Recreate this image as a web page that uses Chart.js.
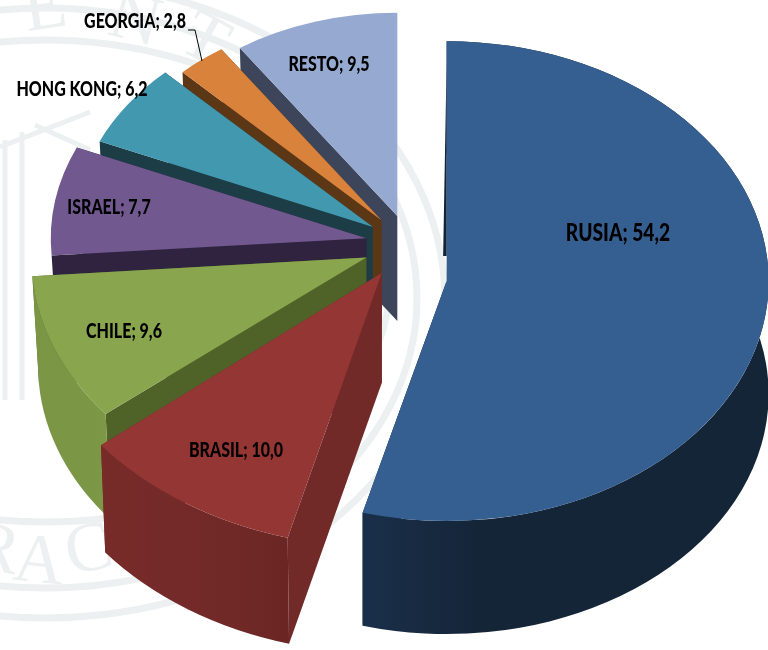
<!DOCTYPE html>
<html>
<head>
<meta charset="utf-8">
<title>Pie 3D</title>
<script src="https://cdn.jsdelivr.net/npm/chart.js@4/dist/chart.umd.min.js"></script>
<style>
  html, body { margin: 0; padding: 0; background: #fff; }
  #wrap { width: 768px; height: 650px; }
</style>
</head>
<body>
<div id="wrap"><canvas id="pie" width="768" height="650"></canvas></div>
<script>
'use strict';

const categories = ['RUSIA', 'BRASIL', 'CHILE', 'ISRAEL', 'HONG KONG', 'GEORGIA', 'RESTO'];
const shares = [54.2, 10.0, 9.6, 7.7, 6.2, 2.8, 9.5];

// colours of the three visible faces of each slice
const topColors = ['#365f91', '#943634', '#89a54e', '#71588f', '#4198af', '#d8823c', '#95a9d1'];
const cutColors = ['#0f2438', '#722a28', '#4f6228', '#2f2340', '#1c3c46', '#5c3716', '#3c4559'];
const rimColors = [
  ['#25425f', '#1b3350', '#152538'],
  ['#7c2d2b', '#702927', '#632220'],
  ['#7a9645', '#7f9b48', '#76923c'],
  null, null, null, null // these rims face away
];

// fake 3D: explode distance, nearer slices look bigger, extrusion narrows a bit
const explode = [42, 38, 40, 40, 42, 42, 30];
const perspective = [1.0, 1.12, 1.04, 0.98, 0.925, 0.885, 0.87];
const squash = [0.745, 0.76, 0.745, 0.725, 0.725, 0.725, 0.725];
const drop = [37, 6, 6, 3, 3, 1, -6];
const depth = [113, 110, 109, 105, 105, 105, 105];
const taper = [1, 0.985, 0.98, 0.98, 0.98, 0.98, 0.98];
const baseRadius = 322;

// label centres and sizes
const labelX = [618, 236, 124, 109, 82, 135, 329];
const labelY = [233, 451, 332, 208, 90, 22, 65];
const labelSize = [24, 20, 20, 20, 20, 20, 20];
const labelSqueeze = 0.8;

function sliceShape(arc, i) {
  const p = arc.getProps(['x', 'y', 'startAngle', 'endAngle', 'outerRadius'], true);
  const mid = (p.startAngle + p.endAngle) / 2;
  const sx = perspective[i];
  const sy = sx * squash[i];
  return {
    x: p.x, y: p.y, sx, sy,
    ax: p.x + sx * explode[i] * Math.cos(mid),
    ay: p.y + sy * explode[i] * Math.sin(mid) + drop[i],
    rx: sx * p.outerRadius, ry: sy * p.outerRadius,
    a0: p.startAngle, a1: p.endAngle
  };
}

function cutFace(ctx, s, angle, d, t) {
  ctx.beginPath();
  ctx.moveTo(s.ax, s.ay);
  ctx.lineTo(s.ax, s.ay + d);
  ctx.lineTo(s.ax + s.rx * t * Math.cos(angle), s.ay + d + s.ry * t * Math.sin(angle));
  ctx.lineTo(s.ax + s.rx * Math.cos(angle), s.ay + s.ry * Math.sin(angle));
  ctx.closePath();
  ctx.fill();
}

const pie3d = {
  id: 'pie3d',
  beforeDatasetDraw(chart) {
    const ctx = chart.ctx;
    const arcs = chart.getDatasetMeta(0).data;
    for (let i = arcs.length - 1; i >= 0; i--) {
      const s = sliceShape(arcs[i], i);
      const d = depth[i];
      const t = taper[i];

      ctx.save();
      ctx.fillStyle = cutColors[i];
      cutFace(ctx, s, s.a0, d, t);
      cutFace(ctx, s, s.a1, d, t);

      // rim
      if (rimColors[i]) {
        const g = ctx.createLinearGradient(s.ax - s.rx, 0, s.ax + s.rx, 0);
        if (i === 0) {
          g.addColorStop(0.1, rimColors[i][0]);
          g.addColorStop(0.3, rimColors[i][1]);
          g.addColorStop(0.55, rimColors[i][2]);
        } else {
          g.addColorStop(0, rimColors[i][0]);
          g.addColorStop(0.3, rimColors[i][1]);
          g.addColorStop(0.48, rimColors[i][2]);
        }
        ctx.beginPath();
        ctx.ellipse(s.ax, s.ay, s.rx, s.ry, 0, s.a0, s.a1);
        ctx.ellipse(s.ax, s.ay + d, s.rx * t, s.ry * t, 0, s.a1, s.a0, true);
        ctx.closePath();
        ctx.fillStyle = g;
        ctx.fill();
      }

      // top face is the library's own arc, squashed and moved
      ctx.translate(s.ax, s.ay);
      ctx.scale(s.sx, s.sy);
      ctx.translate(-s.x, -s.y);
      arcs[i].draw(ctx);
      ctx.restore();

      // dark sliver left of Rusia's vertical edge
      if (i === 0) {
        const tx = s.ax + s.rx * Math.cos(s.a0);
        const ty = s.ay + s.ry * Math.sin(s.a0);
        ctx.beginPath();
        ctx.moveTo(tx, ty + 20);
        ctx.lineTo(s.ax, s.ay - 25);
        ctx.lineTo(s.ax - 3.5, s.ay - 25);
        ctx.closePath();
        ctx.fillStyle = cutColors[0];
        ctx.fill();
      }
    }
    return false;
  },
  afterDraw(chart) {
    const ctx = chart.ctx;
    ctx.save();
    ctx.fillStyle = '#000';
    ctx.textAlign = 'center';
    ctx.textBaseline = 'middle';
    categories.forEach((name, i) => {
      const text = name + '; ' + shares[i].toFixed(1).replace('.', ',');
      ctx.save();
      ctx.font = '900 ' + labelSize[i] + 'px Lato';
      ctx.translate(labelX[i], labelY[i]);
      ctx.scale(labelSqueeze, 1);
      ctx.fillText(text, 0, 0);
      ctx.restore();
    });
    // leader line of GEORGIA
    ctx.strokeStyle = '#000';
    ctx.lineWidth = 1;
    ctx.beginPath();
    ctx.moveTo(188, 30);
    ctx.lineTo(195, 30);
    ctx.lineTo(202, 61);
    ctx.stroke();
    ctx.restore();
  },
  beforeDraw(chart) {
    // faint seal behind the pie
    const ctx = chart.ctx;
    ctx.save();
    ctx.strokeStyle = '#edf0f0';
    ctx.lineWidth = 7;
    [[45, 300, 400, 318], [45, 298, 372, 290], [45, 281, 345, 241]].forEach(e => {
      ctx.beginPath();
      ctx.ellipse(e[0], e[1], e[2], e[3], 0, 0, Math.PI * 2);
      ctx.stroke();
    });
    ctx.lineWidth = 5;
    [[5, 140, 5, 400], [22, 132, 22, 400], [0, 147, 90, 112], [35, 125, 90, 150]].forEach(l => {
      ctx.beginPath();
      ctx.moveTo(l[0], l[1]);
      ctx.lineTo(l[2], l[3]);
      ctx.stroke();
    });
    ctx.fillStyle = '#edf0f0';
    ctx.font = '70px "Liberation Serif"';
    ctx.textAlign = 'center';
    [['E', 48, 28, -0.15], ['N', 130, 40, 0.25], ['T', 195, 58, 0.5], ['R', -8, 570, 0.2], ['A', 37, 582, 0.1], ['C', 93, 570, -0.2]].forEach(c => {
      ctx.save();
      ctx.translate(c[1], c[2]);
      ctx.rotate(c[3]);
      ctx.fillText(c[0], 0, 0);
      ctx.restore();
    });
    ctx.restore();
  }
};

new Chart(document.getElementById('pie'), {
  type: 'pie',
  data: {
    labels: categories,
    datasets: [{
      data: shares,
      backgroundColor: topColors,
      borderWidth: 0
    }]
  },
  options: {
    responsive: false,
    animation: false,
    radius: baseRadius,
    layout: { padding: { left: 42, bottom: 170 } },
    plugins: { legend: { display: false }, tooltip: { enabled: false } }
  },
  plugins: [pie3d]
});
</script>
</body>
</html>
